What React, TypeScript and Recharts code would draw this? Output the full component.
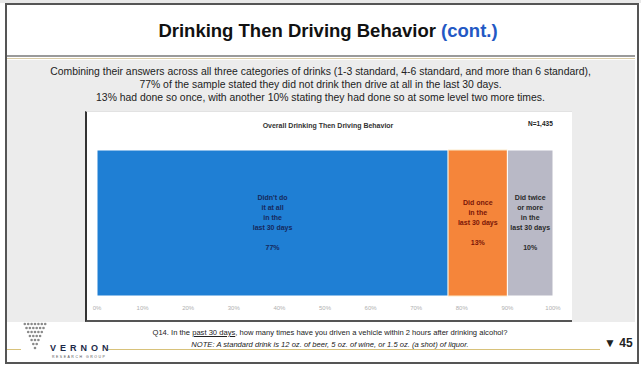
import { BarChart, Bar, XAxis, YAxis, LabelList } from 'recharts'

const categories = ['Overall']
const neverValues = [77]
const onceValues = [13]
const twiceValues = [10]
const xTicks = [0, 10, 20, 30, 40, 50, 60, 70, 80, 90, 100]

const neverLines = ["Didn't do", 'it at all', 'in the', 'last 30 days', '', '77%']
const onceLines = ['Did once', 'in the', 'last 30 days', '', '13%']
const twiceLines = ['Did twice', 'or more', 'in the', 'last 30 days', '', '10%']

const data = categories.map((c, i) => ({
  name: c,
  never: neverValues[i],
  once: onceValues[i],
  twice: twiceValues[i],
}))

const FONT = 'Arial, "Liberation Sans", sans-serif'

function makeLabel(lines: string[], color: string) {
  return (props: any) => {
    const { x, y, width, height } = props
    const cx = x + width / 2
    const lh = 10
    const top = y + height / 2 - ((lines.length - 1) * lh) / 2
    return (
      <text x={cx} textAnchor="middle" fontSize={7} fontWeight="bold" fill={color} fontFamily={FONT}>
        {lines.map((l, i) => (
          <tspan key={i} x={cx} y={top + i * lh} dy="0.35em">
            {l}
          </tspan>
        ))}
      </text>
    )
  }
}

function Logo() {
  const rows = [7, 6, 5, 4, 3, 2, 1]
  return (
    <svg width={30} height={36} style={{ position: 'absolute', left: 20, top: 321 }}>
      {rows.map((n, r) =>
        Array.from({ length: n }).map((_, k) => (
          <circle key={`${r}-${k}`} cx={15 - ((n - 1) * 3.4) / 2 + k * 3.4} cy={3 + r * 4} r={1.3} fill="#8a8a8a" />
        ))
      )}
    </svg>
  )
}

export default function App() {
  return (
    <div style={{ position: 'absolute', left: 0, top: 0, width: 641, height: 366, background: '#fff', fontFamily: FONT, overflow: 'hidden' }}>
      {/* slide frame */}
      <div style={{ position: 'absolute', left: 5, top: 3, width: 630, height: 357, border: '2px solid #555' }} />
      <div style={{ position: 'absolute', left: 0, top: 0, width: 641, height: 3, background: '#e8e8e8' }} />

      <div style={{ position: 'absolute', left: 0, top: 20, width: 656, textAlign: 'center', fontSize: 18.5, fontWeight: 'bold', color: '#111' }}>
        Drinking Then Driving Behavior <span style={{ color: '#2358c4' }}>(cont.)</span>
      </div>

      <div style={{ position: 'absolute', left: 7, top: 55, width: 628, height: 2, background: '#9a9a9a' }} />
      <div style={{ position: 'absolute', left: 7, top: 58, width: 628, height: 1, background: '#d9cba6' }} />

      {/* gray body */}
      <div style={{ position: 'absolute', left: 7, top: 60, width: 628, height: 262, background: '#ececec' }} />

      <div style={{ position: 'absolute', left: 0, top: 65, width: 641, textAlign: 'center', fontSize: 10.4, lineHeight: '13px', color: '#222' }}>
        <div>Combining their answers across all three categories of drinks (1-3 standard, 4-6 standard, and more than 6 standard),</div>
        <div>77% of the sample stated they did not drink then drive at all in the last 30 days.</div>
        <div>13% had done so once, with another 10% stating they had done so at some level two more times.</div>
      </div>

      {/* chart box */}
      <div style={{ position: 'absolute', left: 85, top: 111, width: 485, height: 208, background: '#fff', borderLeft: '2px solid #333', borderBottom: '2px solid #555', borderTop: '1px solid #e2e2e2' }} />
      <div style={{ position: 'absolute', left: 85, top: 122, width: 486, textAlign: 'center', fontSize: 7, fontWeight: 'bold', color: '#333' }}>
        Overall Drinking Then Driving Behavior
      </div>
      <div style={{ position: 'absolute', left: 528, top: 120, fontSize: 6.5, fontWeight: 'bold', color: '#222' }}>N=1,435</div>

      <div style={{ position: 'absolute', left: 85, top: 112 }}>
        <BarChart
          width={490}
          height={208}
          data={data}
          layout="vertical"
          barCategoryGap={0}
          margin={{ top: 38, right: 22, left: 12, bottom: 10 }}
        >
          <XAxis
            type="number"
            domain={[0, 100]}
            ticks={xTicks}
            tickFormatter={(v: number) => `${v}%`}
            tick={{ fontSize: 6, fill: '#b0b0b0' }}
            tickLine={false}
            axisLine={false}
            tickMargin={4}
            height={14}
          />
          <YAxis type="category" dataKey="name" hide />
          <Bar dataKey="never" stackId="a" fill="#1f7fd4" stroke="#fff" strokeWidth={1} isAnimationActive={false}>
            <LabelList dataKey="never" content={makeLabel(neverLines, '#16295c')} />
          </Bar>
          <Bar dataKey="once" stackId="a" fill="#f5853a" stroke="#fbe9c8" strokeWidth={1} isAnimationActive={false}>
            <LabelList dataKey="once" content={makeLabel(onceLines, '#7a1608')} />
          </Bar>
          <Bar dataKey="twice" stackId="a" fill="#b9b9c6" stroke="#fff" strokeWidth={1} isAnimationActive={false}>
            <LabelList dataKey="twice" content={makeLabel(twiceLines, '#2a2a2a')} />
          </Bar>
        </BarChart>
      </div>

      {/* footer */}
      <div style={{ position: 'absolute', left: 0, top: 327, width: 660, textAlign: 'center', fontSize: 7.6, lineHeight: '12px', color: '#222' }}>
        <div>
          Q14. In the <span style={{ textDecoration: 'underline' }}>past 30 days</span>, how many times have you driven a vehicle within 2 hours after drinking alcohol?
        </div>
        <div style={{ fontStyle: 'italic' }}>NOTE: A standard drink is 12 oz. of beer, 5 oz. of wine, or 1.5 oz. (a shot) of liquor.</div>
      </div>
      <div style={{ position: 'absolute', left: 7, top: 349, width: 14, height: 1, background: '#d8c27a' }} />
      <div style={{ position: 'absolute', left: 108, top: 349, width: 492, height: 1, background: '#d8c27a' }} />
      <Logo />
      <div style={{ position: 'absolute', left: 50, top: 343, fontSize: 9, fontWeight: 'bold', letterSpacing: 4, color: '#1d2a4a' }}>VERNON</div>
      <div style={{ position: 'absolute', left: 52, top: 355, fontSize: 3.5, letterSpacing: 1.5, color: '#555' }}>RESEARCH GROUP</div>
      <div style={{ position: 'absolute', left: 604, top: 336, fontSize: 12, fontWeight: 'bold', color: '#222' }}>▼ 45</div>
    </div>
  )
}
